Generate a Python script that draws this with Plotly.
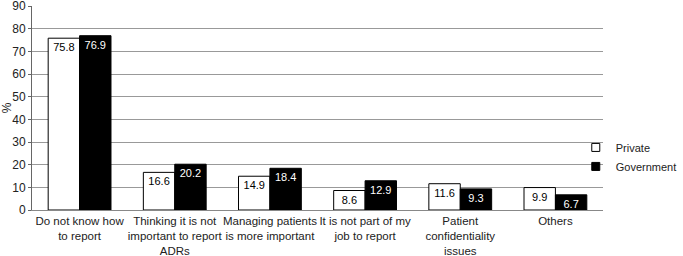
import plotly.graph_objects as go

categories = ["Do not know how<br>to report", "Thinking it is not<br>important to report<br>ADRs",
              "Managing patients<br>is more important", "It is not part of my<br>job to report",
              "Patient<br>confidentiality<br>issues", "Others"]
private = [75.8, 16.6, 14.9, 8.6, 11.6, 9.9]
government = [76.9, 20.2, 18.4, 12.9, 9.3, 6.7]
y_ticks = [0, 10, 20, 30, 40, 50, 60, 70, 80, 90]

fig = go.Figure()
fig.add_bar(x=categories, y=private, name="Private", showlegend=False,
            marker=dict(color="white", line=dict(color="black", width=1)),
            text=[f"{v:.1f}" for v in private], textposition="inside",
            insidetextanchor="end", textfont=dict(color="black", size=11),
            textangle=0, constraintext="none")
fig.add_bar(x=categories, y=government, name="Government", showlegend=False,
            marker=dict(color="black", line=dict(color="black", width=1)),
            text=[f"{v:.1f}" for v in government], textposition="inside",
            insidetextanchor="end", textfont=dict(color="white", size=11),
            textangle=0, constraintext="none")
# legend proxies with small square symbols
fig.add_scatter(x=[None], y=[None], mode="markers", name="Private",
                marker=dict(symbol="square", size=8, color="white",
                            line=dict(color="black", width=1)))
fig.add_scatter(x=[None], y=[None], mode="markers", name="Government",
                marker=dict(symbol="square", size=8, color="black",
                            line=dict(color="black", width=1)))

fig.update_layout(
    width=683, height=256,
    margin=dict(l=32, r=80, t=6, b=46, autoexpand=False),
    paper_bgcolor="white", plot_bgcolor="white",
    barmode="group", bargap=0.34, bargroupgap=0,
    font=dict(family="Arial, Liberation Sans, sans-serif", color="#222", size=12),
    showlegend=True,
    legend=dict(xref="container", yref="container", x=0.843, y=0.387,
                xanchor="left", yanchor="middle",
                bgcolor="rgba(0,0,0,0)", font=dict(size=11), tracegroupgap=0,
                itemwidth=30),
    uniformtext=dict(minsize=11, mode="show"),
)
fig.update_xaxes(showline=True, linecolor="#888", linewidth=1, ticks="",
                 tickangle=0, tickfont=dict(size=11.5), showgrid=False,
                 automargin=False, ticklabeloverflow="allow")
fig.update_yaxes(range=[0, 90], tickvals=y_ticks, showline=True, linecolor="#666",
                 linewidth=1, gridcolor="#999", gridwidth=1, ticks="outside",
                 ticklen=3, tickcolor="#666", tickfont=dict(size=12),
                 ticklabeloverflow="allow", automargin=False,
                 title=dict(text="%", standoff=4, font=dict(size=12)), zeroline=False)

fig.write_html("out.html", config={"displayModeBar": False},
               post_script="document.body.style.margin='0';")
